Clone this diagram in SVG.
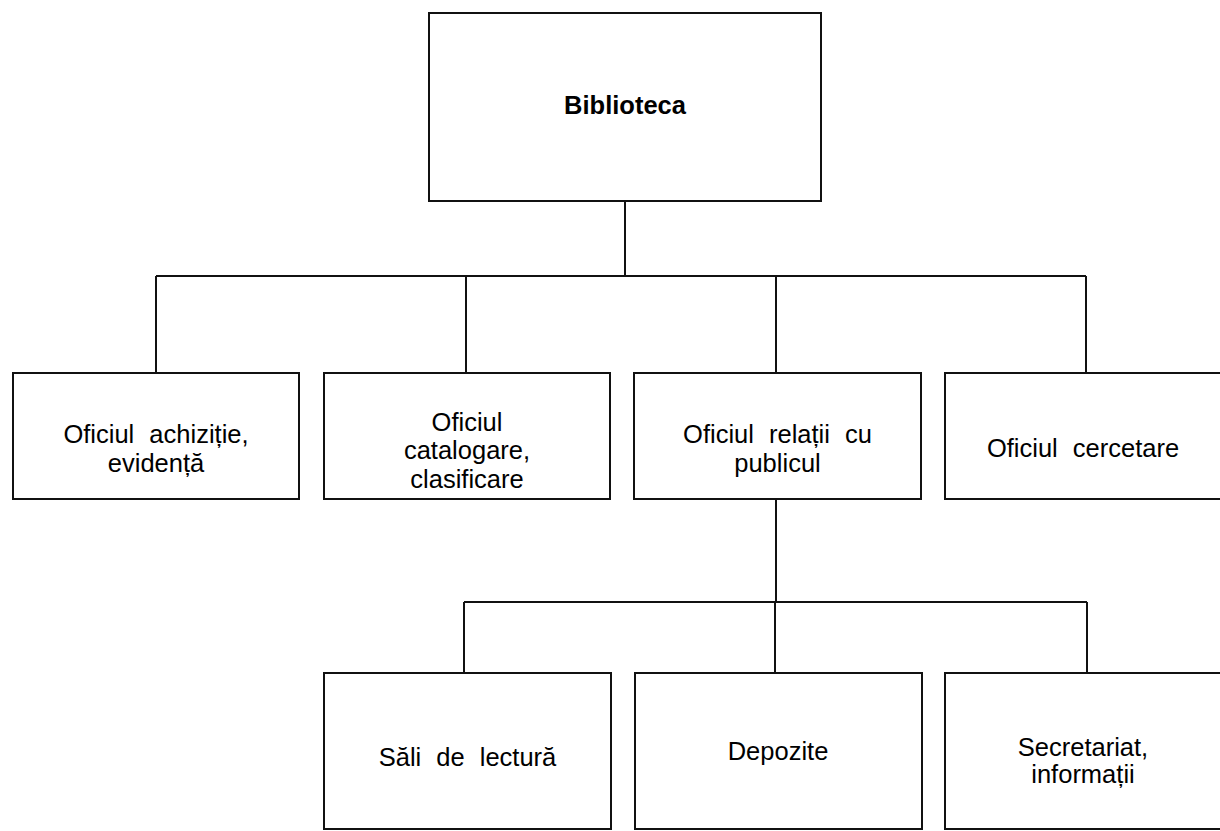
<svg xmlns="http://www.w3.org/2000/svg" width="1220" height="831" viewBox="0 0 1220 831">
<style>
.box{fill:#fff;stroke:#111;stroke-width:2}
.con{fill:none;stroke:#111;stroke-width:2}
.t{font-family:"Liberation Sans",Arial,sans-serif;font-size:25.5px;fill:#000;text-anchor:middle;word-spacing:8px}
.b{font-weight:bold;word-spacing:0}
</style>
<rect width="1220" height="831" fill="#fff"/>
<g id="connectors">
<path class="con" d="M625 201V276M156 276H1086M156 276V373M466 276V373M776 276V373M1086 276V373"/>
<path class="con" d="M776 499V602M464 602H1087M464 602V673M775 602V673M1087 602V673"/>
</g>
<g id="biblioteca">
<rect class="box" x="429" y="13" width="392" height="188"/>
<text class="t b" x="625" y="114">Biblioteca</text>
</g>
<g id="achizitie">
<rect class="box" x="13" y="373" width="286" height="126"/>
<text class="t" x="156" y="443">Oficiul achiziție,</text>
<text class="t" x="156" y="472">evidență</text>
</g>
<g id="catalogare">
<rect class="box" x="324" y="373" width="286" height="126"/>
<text class="t" x="467" y="431">Oficiul</text>
<text class="t" x="467" y="459">catalogare,</text>
<text class="t" x="467" y="488">clasificare</text>
</g>
<g id="relatii">
<rect class="box" x="634" y="373" width="287" height="126"/>
<text class="t" x="777.5" y="443">Oficiul relații cu</text>
<text class="t" x="777.5" y="472">publicul</text>
</g>
<g id="cercetare">
<rect class="box" x="945" y="373" width="290" height="126"/>
<text class="t" x="1083" y="457">Oficiul cercetare</text>
</g>
<g id="sali">
<rect class="box" x="324" y="673" width="287" height="156"/>
<text class="t" x="467.5" y="766">Săli de lectură</text>
</g>
<g id="depozite">
<rect class="box" x="635" y="673" width="287" height="156"/>
<text class="t" x="778" y="760">Depozite</text>
</g>
<g id="secretariat">
<rect class="box" x="945" y="673" width="290" height="156"/>
<text class="t" x="1083" y="756">Secretariat,</text>
<text class="t" x="1083" y="783">informații</text>
</g>
</svg>
